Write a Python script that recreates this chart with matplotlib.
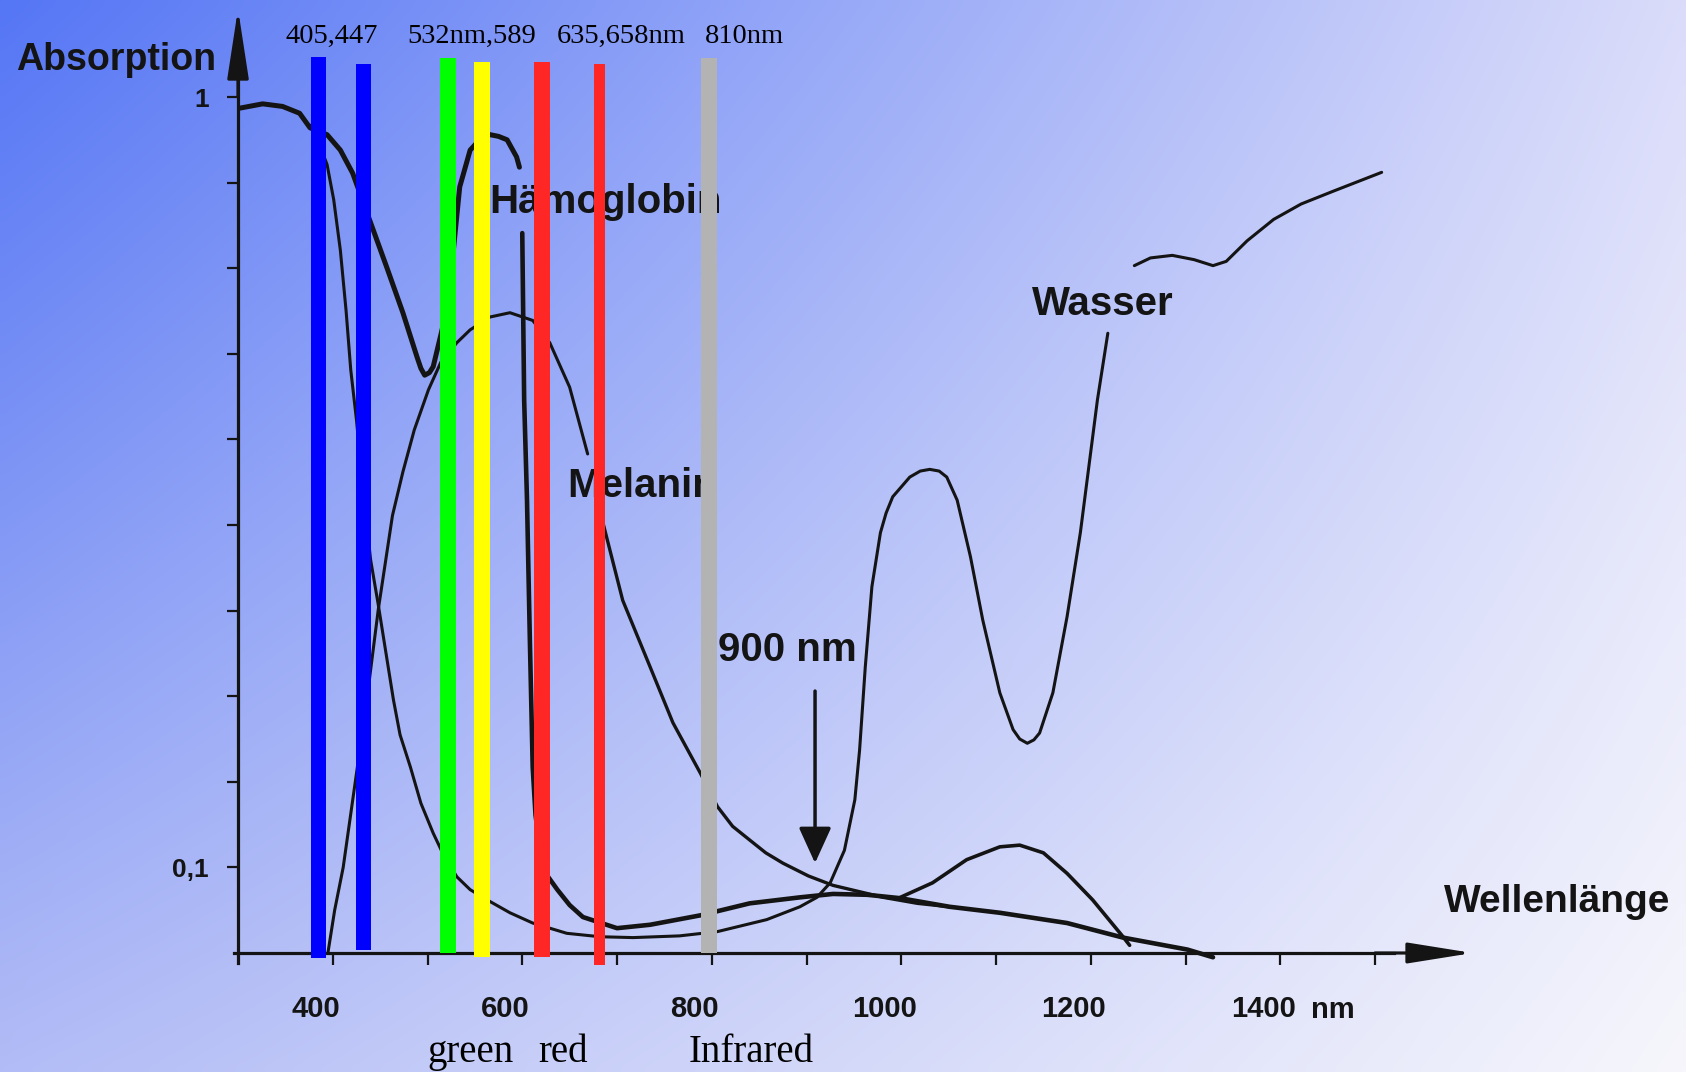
import numpy as np
import matplotlib
matplotlib.use("Agg")
import matplotlib.pyplot as plt
from matplotlib.transforms import ScaledTranslation

plt.rcParams['font.family'] = ['Liberation Sans', 'DejaVu Sans']

# ---------------- data (wavelength in nm, relative absorption) ----------------
hb_upper_nm = [302, 326, 347, 365, 376, 394, 408, 421, 439, 457, 474, 489, 493, 497,
               502, 506, 516, 527, 534, 545, 555, 566, 575, 584, 594, 597]
hb_upper_a = [0.987, 0.992, 0.989, 0.981, 0.964, 0.956, 0.938, 0.911, 0.856, 0.801,
              0.748, 0.696, 0.683, 0.675, 0.678, 0.685, 0.731, 0.818, 0.895, 0.938,
              0.950, 0.956, 0.954, 0.950, 0.930, 0.918]

hb_lower_nm = [600, 602, 605, 608, 611, 614, 619, 626, 637, 650, 664, 700, 735, 788,
               840, 893, 928, 964, 999, 1051, 1104, 1175, 1234, 1302, 1329]
hb_lower_a = [0.841, 0.646, 0.529, 0.366, 0.217, 0.161, 0.120, 0.091, 0.074, 0.056,
              0.042, 0.029, 0.033, 0.044, 0.058, 0.065, 0.069, 0.068, 0.064, 0.054,
              0.047, 0.035, 0.018, 0.004, -0.005]

mel_upper_nm = [395, 402, 411, 423, 436, 448, 463, 474, 486, 501, 514, 531, 545, 566,
                587, 611, 629, 650, 669]
mel_upper_a = [0.001, 0.050, 0.100, 0.194, 0.296, 0.401, 0.511, 0.562, 0.611, 0.658,
               0.690, 0.713, 0.728, 0.743, 0.748, 0.739, 0.713, 0.661, 0.583]

mel_lower_nm = [683, 706, 735, 759, 788, 806, 822, 840, 857, 875, 902, 928, 981, 1017,
                1051]
mel_lower_a = [0.512, 0.412, 0.334, 0.269, 0.210, 0.171, 0.148, 0.132, 0.117, 0.105,
               0.090, 0.079, 0.065, 0.058, 0.054]

water_lower_nm = [376, 384, 394, 401, 408, 414, 419, 425, 433, 440, 448, 464, 471, 482,
                  493, 506, 518, 531, 545, 563, 587, 611, 647, 682, 717, 766, 806, 858,
                  893, 911, 925, 940, 951, 956, 962, 969, 978, 984, 991, 1009, 1020,
                  1030, 1040, 1048, 1059, 1073, 1086, 1104, 1118, 1125, 1133, 1140,
                  1146, 1160, 1175, 1189, 1207, 1218]
water_lower_a = [0.967, 0.950, 0.921, 0.880, 0.821, 0.751, 0.681, 0.623, 0.529, 0.459,
                 0.407, 0.296, 0.255, 0.217, 0.175, 0.140, 0.112, 0.089, 0.074, 0.062,
                 0.047, 0.035, 0.023, 0.019, 0.018, 0.020, 0.025, 0.039, 0.054, 0.065,
                 0.082, 0.120, 0.179, 0.237, 0.334, 0.428, 0.491, 0.514, 0.533, 0.556,
                 0.563, 0.565, 0.563, 0.556, 0.529, 0.463, 0.389, 0.304, 0.261, 0.250,
                 0.245, 0.249, 0.257, 0.304, 0.393, 0.491, 0.646, 0.724]

water_upper_nm = [1246, 1263, 1286, 1309, 1329, 1343, 1365, 1393, 1422, 1456, 1507]
water_upper_a = [0.803, 0.812, 0.815, 0.810, 0.803, 0.808, 0.832, 0.857, 0.875, 0.890,
                 0.912]

nir_hump_nm = [999, 1033, 1069, 1104, 1125, 1150, 1175, 1202, 1234, 1241]
nir_hump_a = [0.065, 0.082, 0.109, 0.124, 0.126, 0.117, 0.093, 0.062, 0.019, 0.009]

marker_nm = 909
marker_a = [0.306, 0.105]

# laser bars (positions as drawn in the picture)
bar_nm = [385.0, 432.5, 521.6, 557.5, 620.8, 681.5, 796.6]
bar_width = [15.8, 15.8, 16.9, 16.9, 16.9, 10.6, 16.9]
bar_top = [1.047, 1.0386, 1.0456, 1.0409, 1.0409, 1.0386, 1.0456]
bar_bottom = [-0.0058, 0.0035, 0.0, -0.0047, -0.0047, -0.014, 0.0]
bar_colors = ['#0000ff', '#0000ff', '#00ff00', '#ffff00', '#ff2626', '#ff2626', '#b3b3b3']

x_ticks = [400, 500, 600, 700, 800, 900, 1000, 1100, 1200, 1300, 1400, 1500]
x_ticklabels = ['400', '', '600', '', '800', '', '1000', '', '1200', '', '1400', '']
y_ticks = [0.1, 0.2, 0.3, 0.4, 0.5, 0.6, 0.7, 0.8, 0.9, 1.0]
y_ticklabels = ['0,1', '', '', '', '', '', '', '', '', '1']

top_labels = ['405,447', '532nm,589', '635,658nm', '810nm']
top_label_nm = [350, 479, 636, 793]
bottom_labels = ['green', 'red', 'Infrared']
bottom_label_nm = [499.5, 617, 776]

# ---------------- figure ----------------
ink = '#141414'
fig = plt.figure(figsize=(16.86, 10.72), dpi=100)
ax = fig.add_axes([0, 0, 1, 1])
X0, X1 = 48.8, 1828.2
Y0, Y1 = -0.13902, 1.11332

# background gradient (blue top-left to pale bottom-right)
H, W = 120, 200
u = np.linspace(0, 1, W)[None, :, None]
v = np.linspace(0, 1, H)[:, None, None]
TL = np.array([85, 118, 245]) / 255
TR = np.array([218, 220, 250]) / 255
BL = np.array([178, 188, 246]) / 255
BR = np.array([246, 246, 252]) / 255
img = (1 - v) * ((1 - u) * TL + u * TR) + v * ((1 - u) * BL + u * BR)
ax.imshow(img, extent=[X0, X1, Y0, Y1], origin='upper', aspect='auto',
          interpolation='bilinear', zorder=0)
ax.set_xlim(X0, X1)
ax.set_ylim(Y0, Y1)

# curves
kw = dict(color=ink, solid_capstyle='round', solid_joinstyle='round', zorder=2)
ax.plot(hb_upper_nm, hb_upper_a, lw=3.6, **kw)
ax.plot(hb_lower_nm, hb_lower_a, lw=3.3, **kw)
ax.plot(water_lower_nm, water_lower_a, lw=2.2, **kw)
ax.plot(water_upper_nm, water_upper_a, lw=2.2, **kw)
ax.plot(mel_upper_nm, mel_upper_a, lw=2.2, **kw)
ax.plot(mel_lower_nm, mel_lower_a, lw=2.4, **kw)
ax.plot(nir_hump_nm, nir_hump_a, lw=2.6, **kw)

# axes
for s in ['top', 'right']:
    ax.spines[s].set_visible(False)
ax.spines['left'].set_position(('data', 300))
ax.spines['left'].set_bounds(-0.012, 1.02)
ax.spines['bottom'].set_position(('data', 0))
ax.spines['bottom'].set_bounds(296, 1520)
for s in ['left', 'bottom']:
    ax.spines[s].set_linewidth(2.3)
    ax.spines[s].set_color(ink)

ax.set_xticks(x_ticks)
ax.set_xticklabels(x_ticklabels)
ax.set_yticks(y_ticks)
ax.set_yticklabels(y_ticklabels)
ax.tick_params(axis='x', direction='out', length=8.5, width=1.6, color=ink,
               pad=22, labelsize=21, labelcolor=ink)
ax.tick_params(axis='y', direction='out', length=8, width=1.6, color=ink,
               pad=13, labelsize=19, labelcolor=ink)
off = ScaledTranslation(-0.17, 0, fig.dpi_scale_trans)
for lbl in ax.get_xticklabels():
    lbl.set_fontweight('bold')
    lbl.set_transform(lbl.get_transform() + off)
for lbl in ax.get_yticklabels():
    lbl.set_fontweight('bold')

# axis arrows
ax.annotate('', xy=(300, 1.103), xytext=(300, 1.0),
            arrowprops=dict(arrowstyle='-|>,head_length=2.15,head_width=0.33',
                            mutation_scale=20, lw=2.3, color=ink, shrinkA=0, shrinkB=0),
            zorder=3)
ax.annotate('', xy=(1603, 0), xytext=(1500, 0),
            arrowprops=dict(arrowstyle='-|>,head_length=2.0,head_width=0.32',
                            mutation_scale=20, lw=2.3, color=ink, shrinkA=0, shrinkB=0),
            zorder=3)
# 900 nm marker arrow
ax.annotate('', xy=(marker_nm, marker_a[1]), xytext=(marker_nm, marker_a[0]),
            arrowprops=dict(arrowstyle='-|>,head_length=1.1,head_width=0.5',
                            mutation_scale=20, lw=2.5, color=ink, shrinkA=0, shrinkB=0),
            zorder=3)

# chart labels (behind the laser bars)
tk = dict(color=ink, fontweight='bold', ha='left', va='baseline', zorder=3)
ax.text(66, 1.0315, 'Absorption', fontsize=27, **tk)
ax.text(565, 0.864, 'Hämoglobin', fontsize=29, **tk)
ax.text(647, 0.533, 'Melanin', fontsize=29, **tk)
ax.text(1138, 0.745, 'Wasser', fontsize=29, **tk)
ax.text(807, 0.341, '900 nm', fontsize=29, **tk)
ax.text(1573, 0.048, 'Wellenlänge', fontsize=28, **tk)
ax.text(1432, -0.076, 'nm', fontsize=21, **tk)

# laser bars
ax.bar(bar_nm, np.array(bar_top) - np.array(bar_bottom), width=bar_width,
       bottom=bar_bottom, color=bar_colors, linewidth=0, zorder=5)

# laser labels
for t, x in zip(top_labels, top_label_nm):
    ax.text(x, 1.063, t, fontsize=20.5, family='Liberation Serif', color='black',
            ha='left', va='baseline', zorder=6)
for t, x in zip(bottom_labels, bottom_label_nm):
    ax.text(x, -0.127, t, fontsize=28, family='Liberation Serif', color='black',
            ha='left', va='baseline', zorder=6)

fig.savefig('out.png', dpi=100)
